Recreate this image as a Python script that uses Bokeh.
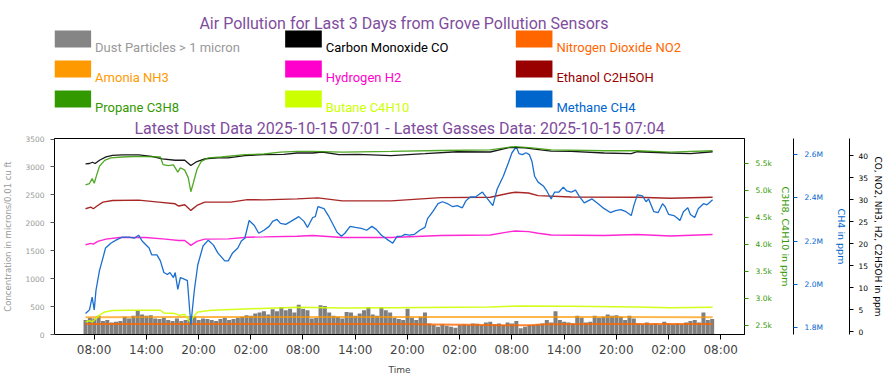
import pandas as pd
from bokeh.plotting import figure
from bokeh.models import Range1d, LinearAxis, FixedTicker, DatetimeTickFormatter
from bokeh.layouts import column
from bokeh.core.properties import value
from bokeh.embed import file_html
from bokeh.resources import INLINE

# ---------------- data ----------------
TITLE = "Air Pollution for Last 3 Days from Grove Pollution Sensors"
SUBTITLE = "Latest Dust Data 2025-10-15 07:01 - Latest Gasses Data: 2025-10-15 07:04"
DATA_START = "2025-10-12 07:01"
X_START = "2025-10-12 03:27"
X_END = "2025-10-15 10:44"

x_tick_times = ["2025-10-12 08:00", "2025-10-12 14:00", "2025-10-12 20:00", "2025-10-13 02:00",
                "2025-10-13 08:00", "2025-10-13 14:00", "2025-10-13 20:00", "2025-10-14 02:00",
                "2025-10-14 08:00", "2025-10-14 14:00", "2025-10-14 20:00", "2025-10-15 02:00",
                "2025-10-15 08:00"]

dust_ticks = [0, 500, 1000, 1500, 2000, 2500, 3000, 3500]
c3_ticks = [2500, 3000, 3500, 4000, 4500, 5000, 5500]
c3_tick_labels = ["2.5k", "3.0k", "3.5k", "4.0k", "4.5k", "5.0k", "5.5k"]
ch4_ticks = [1.8, 2.0, 2.2, 2.4, 2.6]
ch4_tick_labels = ["1.8M", "2.0M", "2.2M", "2.4M", "2.6M"]
gas_ticks = [0, 5, 10, 15, 20, 25, 30, 35, 40]

# dust: one value every 30 minutes from DATA_START (microns/0.01 cu ft)
dust_step_minutes = 30
dust_values = [258, 299, 287, 334, 240, 258, 217, 229, 240, 317,
               287, 334, 434, 358, 334, 346, 287, 276, 299, 258,
               240, 287, 240, 258, 287, 317, 258, 287, 276, 258,
               240, 276, 299, 258, 276, 299, 317, 346, 334, 375,
               393, 416, 358, 451, 416, 493, 434, 463, 393,
               534, 463, 434, 287, 299, 522, 510, 393, 334, 317,
               287, 405, 393, 334, 375, 434, 493, 358, 334, 493,
               434, 393, 299, 276, 258, 463, 299, 258, 317, 393,
               199, 170, 141, 182, 158, 141, 123, 170, 182, 170,
               199, 193, 170, 217, 229, 182, 199, 170,
               217, 199, 240, 111, 141, 170, 170, 182, 199, 258,
               217, 416, 258, 229, 217, 199, 334, 299, 217, 229,
               334, 299, 317, 358, 334, 346, 317, 258, 334, 287,
               199, 182, 217, 182, 199, 170, 229, 199, 182, 199,
               182, 217, 240, 258, 217, 393, 258, 276]

# gases: hours after DATA_START and values
co_hours = [0, 0.45, 0.8, 1.1, 1.6, 2.35, 3.1, 4.2, 6.1, 7.6, 8.8, 10.3, 11.4, 12.1, 12.8, 13.7,
            15.2, 16.4, 18.3, 20.5, 22.8, 24.3, 26.1, 27.2, 29.1, 31.3, 35.1, 39.0, 42.7, 46.5,
            48.8, 50.5, 51.6, 53.5, 55.8, 59.6, 62.7, 63.4, 67.2, 69.5, 72.05]
co_values = [38.15, 38.21, 38.50, 38.21, 38.95, 39.71, 40.07, 40.16, 40.16, 39.84, 39.26, 38.95,
             38.95, 37.77, 38.66, 39.26, 39.49, 39.49, 40.0, 40.22, 40.29, 40.6, 40.60, 40.83,
             40.22, 40.29, 40.0, 40.45, 40.89, 40.83, 41.9, 41.79, 41.50, 41.05, 40.96, 40.60,
             40.45, 40.89, 40.60, 40.45, 40.89]

no2_hours = [0, 12, 24, 36, 40, 44, 48, 51, 53, 60, 72.05]
no2_values = [1.72, 1.72, 1.72, 1.72, 1.62, 1.55, 1.45, 1.45, 1.68, 1.72, 1.72]

nh3_hours = [0, 12, 24, 36, 48, 60, 72.05]
nh3_values = [3.25, 3.29, 3.29, 3.31, 3.29, 3.29, 3.27]

h2_hours = [0, 0.6, 0.9, 1.4, 2.35, 3.9, 6.9, 9.2, 10.7, 11.4, 12.1, 12.8, 13.7, 16.4, 18.6,
            20.5, 24.3, 26.1, 29.5, 35.1, 40.8, 46.5, 48.8, 49.4, 50.9, 52.0, 53.5, 59.6, 63.4,
            67.2, 72.05]
h2_values = [19.73, 20.05, 19.89, 20.49, 21.01, 21.39, 21.39, 21.01, 20.72, 20.72, 19.60, 20.49,
             21.01, 21.07, 21.45, 21.52, 21.68, 21.83, 21.39, 21.39, 21.83, 21.97, 22.73, 22.86,
             22.73, 22.35, 21.97, 21.83, 22.06, 21.74, 22.06]

eth_hours = [0, 0.6, 0.9, 1.4, 2.0, 3.1, 6.1, 8.4, 10.3, 10.7, 11.4, 12.1, 12.8, 13.7, 15.2, 16.7,
             18.6, 20.5, 24.3, 26.7, 29.5, 35.1, 40.8, 46.5, 48.8, 49.4, 50.9, 52.0, 55.8, 63.4,
             67.2, 72.05]
eth_values = [27.93, 28.31, 27.93, 28.67, 29.43, 29.79, 29.88, 29.43, 29.05, 28.54, 28.83, 27.55,
              28.67, 29.43, 29.43, 29.43, 30.01, 29.94, 30.17, 30.39, 29.72, 29.72, 30.46, 30.55,
              31.51, 31.67, 31.51, 30.91, 30.61, 30.55, 30.32, 30.55]

prop_hours = [0, 0.45, 0.76, 1.0, 1.3, 1.6, 2.2, 2.9, 4.2, 6.1, 8.6, 8.9, 9.5, 10.1, 10.6, 10.9,
              11.4, 11.8, 12.1, 12.4, 12.8, 13.3, 14.1, 15.6, 18.3, 20.5, 22.4, 24.3, 26.1, 29.5,
              35.1, 40.8, 46.5, 48.8, 49.4, 51.3, 53.5, 59.6, 63.4, 67.2, 72.05]
prop_values = [5111, 5136, 5227, 5142, 5305, 5456, 5565, 5609, 5627, 5638, 5627, 5487, 5469, 5482,
               5347, 5427, 5384, 5245, 4984, 5154, 5396, 5547, 5609, 5627, 5669, 5682, 5718, 5729,
               5729, 5718, 5729, 5747, 5760, 5809, 5820, 5796, 5760, 5742, 5742, 5718, 5742]

but_hours = [0, 0.45, 0.8, 1.2, 1.6, 2.2, 3.1, 5.0, 8.6, 9.0, 10.3, 10.7, 11.4, 12.0, 12.4, 12.9,
             14.5, 18.3, 24.3, 29.5, 35.1, 46.5, 48.8, 50.1, 55.8, 63.4, 67.2, 72.05]
but_values = [2578, 2597, 2578, 2638, 2700, 2760, 2784, 2791, 2791, 2742, 2729, 2700, 2711, 2578,
              2669, 2760, 2791, 2815, 2846, 2833, 2838, 2851, 2864, 2869, 2864, 2851, 2838, 2846]

# methane in millions of ppm
ch4_hours = [0, 0.45, 0.76, 1.0, 1.2, 1.6, 2.0, 2.3, 2.9, 3.5, 4.2, 5.0, 5.6, 6.1, 6.5, 7.3, 7.6,
             8.2, 8.6, 9.0, 9.4, 9.7, 10.1, 10.3, 10.6, 10.9, 11.4, 11.7, 12.1, 12.5, 12.9, 13.5,
             14.1, 14.7, 15.2, 16.0, 16.4, 16.9, 17.5, 17.9, 18.3, 18.8, 19.4, 19.9, 20.5, 21.1,
             21.5, 22.0, 22.4, 23.0, 23.6, 24.5, 25.1, 25.5, 26.1, 26.4, 26.7, 27.4, 27.9, 28.5,
             28.9, 29.4, 29.8, 30.4, 31.0, 31.7, 32.3, 32.9, 33.4, 34.0, 34.6, 35.3, 35.8, 36.3,
             36.7, 37.2, 37.8, 38.4, 39.0, 39.3, 39.9, 40.5, 41.0, 41.6, 42.2, 42.7, 43.3, 43.7,
             44.2, 44.8, 45.6, 46.1, 46.8, 47.3, 48.0, 48.6, 49.0, 49.5, 49.8, 50.2, 50.6, 51.0,
             51.3, 51.6, 52.0, 52.6, 53.0, 53.5, 53.9, 54.4, 54.9, 55.3, 55.8, 56.3, 56.7, 57.3,
             58.2, 58.9, 59.6, 60.3, 60.9, 61.5, 62.1, 62.7, 63.0, 63.4, 64.0, 64.4, 64.7, 65.3,
             65.8, 66.3, 66.6, 67.0, 67.6, 67.9, 68.3, 68.7, 69.2, 69.5, 70.0, 70.4, 71.0, 71.4,
             71.8, 72.05]
ch4_values = [1.864, 1.881, 1.940, 1.881, 1.972, 2.063, 2.122, 2.168, 2.190, 2.204, 2.218, 2.218,
              2.213, 2.227, 2.200, 2.168, 2.136, 2.136, 2.108, 2.054, 2.045, 2.054, 2.031, 2.054,
              1.976, 2.031, 2.022, 2.017, 1.812, 1.972, 2.090, 2.177, 2.204, 2.181, 2.145, 2.108,
              2.108, 2.145, 2.168, 2.200, 2.213, 2.295, 2.272, 2.236, 2.250, 2.268, 2.291, 2.300,
              2.282, 2.277, 2.291, 2.313, 2.291, 2.263, 2.309, 2.313, 2.359, 2.350, 2.318, 2.272,
              2.241, 2.222, 2.236, 2.268, 2.263, 2.259, 2.250, 2.268, 2.254, 2.227, 2.209, 2.190,
              2.222, 2.222, 2.231, 2.227, 2.231, 2.250, 2.263, 2.304, 2.336, 2.373, 2.382, 2.373,
              2.359, 2.364, 2.354, 2.386, 2.404, 2.404, 2.427, 2.400, 2.364, 2.441, 2.500, 2.564,
              2.609, 2.637, 2.605, 2.600, 2.609, 2.600, 2.568, 2.500, 2.473, 2.455, 2.432, 2.395,
              2.427, 2.427, 2.450, 2.432, 2.427, 2.436, 2.409, 2.377, 2.395, 2.373, 2.350, 2.332,
              2.341, 2.345, 2.336, 2.318, 2.364, 2.414, 2.409, 2.382, 2.395, 2.336, 2.332, 2.373,
              2.359, 2.323, 2.318, 2.309, 2.295, 2.336, 2.354, 2.323, 2.309, 2.350, 2.373, 2.368,
              2.382, 2.391]

legend_names = ["Dust Particles > 1 micron", "Carbon Monoxide CO", "Nitrogen Dioxide NO2",
                "Amonia NH3", "Hydrogen H2", "Ethanol C2H5OH",
                "Propane C3H8", "Butane C4H10", "Methane CH4"]
legend_colors = ["#858585", "#000000", "#ff6600", "#ff9900", "#ff00cc", "#990000",
                 "#339900", "#ccff00", "#0066cc"]
legend_text_colors = ["#999999", "#000000", "#ff6600", "#ff9900", "#ff00cc", "#990000",
                      "#339900", "#ccff00", "#0066cc"]

# ---------------- styling / layout constants ----------------
W = 886
HDR_H = 116
MAIN_H = 261
BORDER_L = 47
BORDER_R = 142
FRAME_W = W - BORDER_L - BORDER_R
TITLE_COLOR = "#7f4d9e"
AX_FONT = "DejaVu Sans"


def to_times(hours):
    return (pd.Timestamp(DATA_START) + pd.to_timedelta(hours, unit="h")).to_numpy()


def ms(t):
    return pd.Timestamp(t).value / 1e6


# ---------------- header (title + legend) ----------------
hdr = figure(width=W, height=HDR_H, x_range=Range1d(0, FRAME_W), y_range=Range1d(HDR_H, 0),
             toolbar_location=None, output_backend="svg",
             min_border_left=BORDER_L, min_border_right=BORDER_R,
             min_border_top=0, min_border_bottom=0,
             x_axis_location=None, y_axis_location=None, outline_line_color=None)
hdr.grid.visible = False

hdr.text(x=[353], y=[23], text=[TITLE], text_align="center", text_baseline="alphabetic",
         text_font=value("Roboto"), text_font_size="16px", text_color=TITLE_COLOR)

LEG_X0, LEG_DX, LEG_Y0, LEG_DY = 0, 233, 30, 30
SW_W, SW_H, TXT_DX, TXT_BASE = 37, 17, 41, 17
cols = [i % 3 for i in range(len(legend_names))]
rows = [i // 3 for i in range(len(legend_names))]
sw_left = [LEG_X0 + c * LEG_DX for c in cols]
sw_top = [LEG_Y0 + r * LEG_DY for r in rows]
hdr.quad(left=sw_left, right=[x + SW_W for x in sw_left], top=sw_top,
         bottom=[y + SW_H for y in sw_top], fill_color=legend_colors, line_color=None)
hdr.text(x=[x + TXT_DX for x in sw_left], y=[y + TXT_BASE for y in sw_top], text=legend_names,
         text_color=legend_text_colors, text_font=value("Roboto"), text_font_size="13px",
         text_baseline="alphabetic", text_align="left")

# ---------------- main chart ----------------
p = figure(width=W, height=MAIN_H, x_axis_type="datetime",
           x_range=Range1d(pd.Timestamp(X_START), pd.Timestamp(X_END)),
           y_range=Range1d(0, 3510), toolbar_location=None, output_backend="svg",
           min_border_left=BORDER_L, min_border_right=BORDER_R, min_border_top=0,
           min_border_bottom=39, title=SUBTITLE)
p.title.align = "center"
p.title.text_font = "Roboto"
p.title.text_font_size = "16px"
p.title.text_font_style = "normal"
p.title.text_color = TITLE_COLOR
p.title.standoff = 1
p.grid.visible = False
p.outline_line_color = "black"
p.outline_line_width = 1
p.extra_y_ranges = {"c3": Range1d(2342, 5969), "ch4": Range1d(1.767, 2.675),
                    "gas": Range1d(-0.67, 43.9)}

# dust bars
dust_times = (pd.Timestamp(DATA_START)
              + pd.to_timedelta([i * dust_step_minutes for i in range(len(dust_values))],
                                unit="m")).to_numpy()
p.vbar(x=dust_times, top=dust_values, width=dust_step_minutes * 60 * 1000 * 0.92,
       fill_color="#7f7f7f", line_color=None)

# gas lines
p.line(to_times(nh3_hours), nh3_values, y_range_name="gas", line_color="#ff9900",
       line_width=2, line_alpha=0.7)
p.line(to_times(no2_hours), no2_values, y_range_name="gas", line_color="#ff6600",
       line_width=2, line_alpha=0.8)
p.line(to_times(but_hours), but_values, y_range_name="c3", line_color="#ccff00",
       line_width=1.5, line_alpha=0.9)
p.line(to_times(h2_hours), h2_values, y_range_name="gas", line_color="#ff00cc",
       line_width=1.4, line_alpha=0.85)
p.line(to_times(eth_hours), eth_values, y_range_name="gas", line_color="#990000",
       line_width=1.4, line_alpha=0.85)
p.line(to_times(ch4_hours), ch4_values, y_range_name="ch4", line_color="#1a6fcf",
       line_width=1.3)
p.line(to_times(co_hours), co_values, y_range_name="gas", line_color="#000000",
       line_width=1.3, line_alpha=0.9)
p.line(to_times(prop_hours), prop_values, y_range_name="c3", line_color="#339900",
       line_width=1.3, line_alpha=0.85)

# x axis
xa = p.xaxis[0]
xa.ticker = FixedTicker(ticks=[ms(t) for t in x_tick_times])
xa.formatter = DatetimeTickFormatter(hours="%H:%M", hourmin="%H:%M", days="%H:%M",
                                     strip_leading_zeros=False)
xa.axis_label = "Time"
xa.axis_label_text_font = AX_FONT
xa.axis_label_text_font_size = "9px"
xa.axis_label_text_font_style = "normal"
xa.axis_label_standoff = 5
xa.major_label_text_font = AX_FONT
xa.major_label_text_font_size = "12px"
xa.major_label_standoff = 3
xa.major_tick_out = 5
xa.major_tick_in = 0
xa.minor_tick_line_color = None
xa.axis_line_color = "black"


def style_y(ax, color, line_color, tick_color, label_size="9.5px"):
    ax.major_label_text_font = AX_FONT
    ax.major_label_text_font_size = "7.5px"
    ax.major_label_text_color = color
    ax.axis_label_text_font = AX_FONT
    ax.axis_label_text_font_size = label_size
    ax.axis_label_text_font_style = "normal"
    ax.axis_label_text_color = color
    ax.major_tick_out = 4
    ax.major_tick_in = 0
    ax.major_tick_line_color = tick_color
    ax.minor_tick_line_color = None
    ax.axis_line_color = line_color


# left axis (dust)
ya = p.yaxis[0]
ya.ticker = FixedTicker(ticks=dust_ticks)
ya.axis_label = "Concentration in microns/0.01 cu ft"
style_y(ya, "#999999", "black", "#555555", "8.5px")
ya.major_label_standoff = 6
ya.axis_label_standoff = 9

# right axes
ax_c3 = LinearAxis(y_range_name="c3", ticker=FixedTicker(ticks=c3_ticks),
                   major_label_overrides=dict(zip(c3_ticks, c3_tick_labels)),
                   axis_label="C3H8, C4H10 in ppm")
style_y(ax_c3, "#339900", "black", "#339900")
ax_c3.major_label_standoff = 7
ax_c3.axis_label_standoff = 5
p.add_layout(ax_c3, "right")

ax_ch4 = LinearAxis(y_range_name="ch4", ticker=FixedTicker(ticks=ch4_ticks),
                    major_label_overrides=dict(zip(ch4_ticks, ch4_tick_labels)),
                    axis_label="CH4 in ppm")
style_y(ax_ch4, "#0066cc", "black", "#0066cc")
ax_ch4.major_label_standoff = 7
ax_ch4.axis_label_standoff = 10
p.add_layout(ax_ch4, "right")

ax_gas = LinearAxis(y_range_name="gas", ticker=FixedTicker(ticks=gas_ticks),
                    axis_label="CO, NO2, NH3, H2, C2H5OH in ppm")
style_y(ax_gas, "#000000", "black", "black", "9px")
ax_gas.major_label_standoff = 5
ax_gas.axis_label_standoff = 2
p.add_layout(ax_gas, "right")

layout = column(hdr, p)
open("out.html", "w").write(file_html(layout, INLINE))
